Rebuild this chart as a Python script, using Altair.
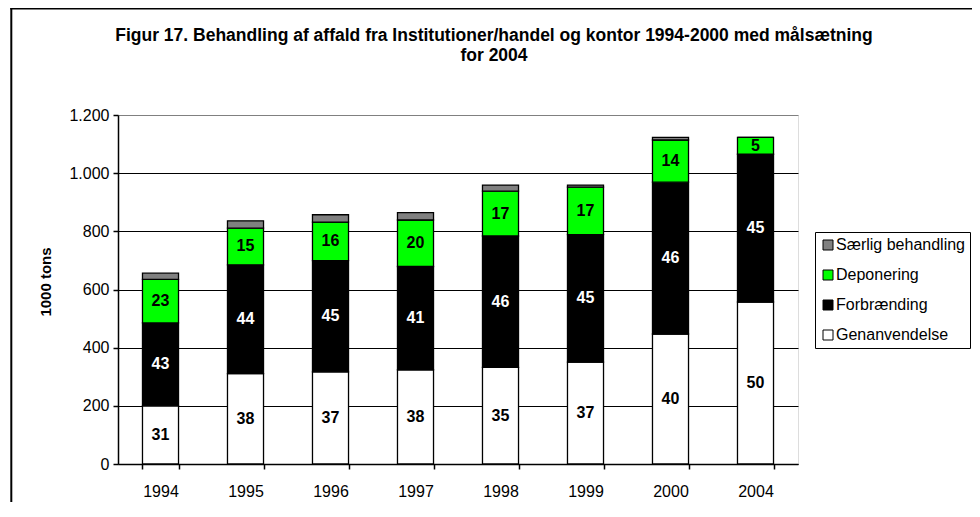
import altair as alt
import pandas as pd

# ---- data ----
years = ["1994", "1995", "1996", "1997", "1998", "1999", "2000", "2004"]
series = ["Genanvendelse", "Forbrænding", "Deponering", "Særlig behandling"]
genanvendelse = [200, 311, 317, 324, 332, 350, 447, 557]
forbraending = [285, 374, 382, 355, 452, 439, 522, 508]
deponering = [150, 126, 133, 160, 154, 163, 145, 58]
saerlig = [21, 25, 25, 25, 21, 7, 9, 0]
pct_gen = [31, 38, 37, 38, 35, 37, 40, 50]
pct_forb = [43, 44, 45, 41, 46, 45, 46, 45]
pct_dep = [23, 15, 16, 20, 17, 17, 14, 5]
pct_saer = [None] * 8
y_ticks = [0, 200, 400, 600, 800, 1000, 1200]
legend_order = ["Særlig behandling", "Deponering", "Forbrænding", "Genanvendelse"]
legend_colors = ["#808080", "#00FF00", "#000000", "#FFFFFF"]
title_lines = [
    "Figur 17. Behandling af affald fra Institutioner/handel og kontor 1994-2000 med målsætning",
    "for 2004",
]
y_title = "1000 tons"

rows = []
for k, (name, vals, pcts) in enumerate(zip(series,
                                            [genanvendelse, forbraending, deponering, saerlig],
                                            [pct_gen, pct_forb, pct_dep, pct_saer])):
    for yr, v, p in zip(years, vals, pcts):
        rows.append({"year": yr, "cat": name, "value": v, "ord": k,
                     "label": "" if p is None else str(p)})
df = pd.DataFrame(rows)

FONT = "Liberation Sans"
W, H = 680, 349

x_axis = alt.Axis(tickBand="extent", tickSize=5, tickColor="black", tickWidth=1.5,
                  domainColor="black", domainWidth=1.5, labelFont=FONT,
                  labelFontSize=16, labelColor="black", labelPadding=14,
                  labelAngle=0, grid=False)
x_scale = alt.Scale(paddingInner=0.576, paddingOuter=0.288)

y_axis = alt.Axis(values=y_ticks, title=y_title, titleFont=FONT, titleFontSize=15,
                  titleFontWeight="bold", titleColor="black", titleAngle=270,
                  titleX=-73, titleY=H / 2 - 8, titleAlign="center",
                  titleBaseline="middle",
                  labelFont=FONT, labelFontSize=16, labelColor="black",
                  labelPadding=4,
                  labelExpr="replace(format(datum.value, ','), ',', '.')",
                  tickSize=5, tickColor="black", tickWidth=1.5,
                  domainColor="black", domainWidth=1.5,
                  grid=True, gridWidth=1,
                  gridColor={"condition": {"test": "datum.value === 1200",
                                           "value": "#808080"},
                             "value": "black"})
y_scale = alt.Scale(domain=[0, 1200], nice=False)

bars = alt.Chart(df).mark_bar(stroke="black", strokeWidth=1.3).encode(
    x=alt.X("year:N", sort=years, title=None, scale=x_scale, axis=x_axis),
    y=alt.Y("value:Q", stack="zero", scale=y_scale, axis=y_axis),
    color=alt.Color("cat:N",
                    scale=alt.Scale(domain=legend_order, range=legend_colors),
                    legend=alt.Legend(title=None, orient="none", legendX=697, legendY=117,
                                      direction="vertical", strokeColor="black",
                                      fillColor="white", padding=5,
                                      symbolType="square", symbolSize=100,
                                      symbolStrokeColor="black", symbolStrokeWidth=1,
                                      labelFont=FONT, labelFontSize=16,
                                      labelColor="black", labelOffset=0,
                                      rowPadding=14, labelLimit=300)),
    order=alt.Order("ord:Q", sort="ascending"),
)

labels = alt.Chart(df).transform_stack(
    stack="value", groupby=["year"], as_=["y0", "y1"],
    sort=[alt.SortField("ord", order="ascending")],
).transform_filter("datum.label != ''").transform_calculate(
    mid="(datum.y0 + datum.y1) / 2"
).mark_text(font=FONT, fontSize=16, fontWeight="bold", baseline="middle", align="center").encode(
    x=alt.X("year:N", sort=years, title=None, scale=x_scale, axis=x_axis),
    y=alt.Y("mid:Q", scale=y_scale, axis=y_axis, title=y_title),
    text="label:N",
    color=alt.condition(alt.datum.cat == "Forbrænding", alt.value("white"), alt.value("black")),
)

frame_left = alt.Chart(alt.Data(values=[{}])).mark_rule(color="black", strokeWidth=2).encode(
    x=alt.value(-106.7), y=alt.value(-107.5), y2=alt.value(420))
frame_top = alt.Chart(alt.Data(values=[{}])).mark_rule(color="black", strokeWidth=2).encode(
    x=alt.value(-107.7), x2=alt.value(900), y=alt.value(-106.5))

chart = alt.layer(bars, labels, frame_left, frame_top).properties(
    width=W, height=H,
    title=alt.TitleParams(text=title_lines, font=FONT, fontSize=17.5, fontWeight="bold",
                          color="black", anchor="middle", frame="group", offset=0,
                          baseline="top", lineHeight=20, dx=36, dy=57.5),
    autosize=alt.AutoSizeParams(type="none"),
    padding={"left": 110, "top": 107, "right": 174, "bottom": 38},
).configure_view(stroke="#808080", strokeWidth=1.5).configure(background="white")

chart.save("out.html", embed_options={"renderer": "svg", "actions": False})
